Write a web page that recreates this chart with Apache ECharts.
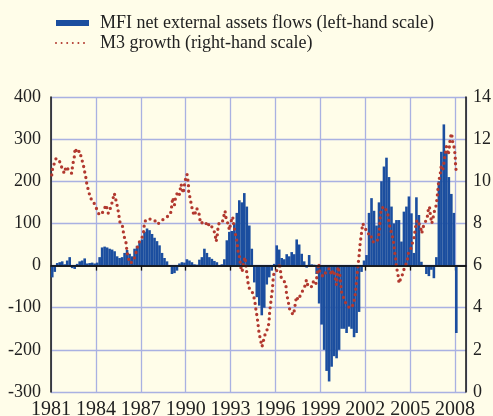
<!DOCTYPE html>
<html>
<head>
<meta charset="utf-8">
<script src="https://cdn.jsdelivr.net/npm/echarts@6/dist/echarts.min.js"></script>
<style>
  html, body { margin: 0; padding: 0; background: #fffde9; }
  #chart { width: 493px; height: 416px; }
</style>
</head>
<body>
<div id="chart"></div>
<script>
// x positions are years since the start of 1981
const startYear = 1981;
const flowName = 'MFI net external assets flows (left-hand scale)';
const m3Name = 'M3 growth (right-hand scale)';

// MFI net external assets flows, two-month steps from Jan 1981
const flowValues = [
  -28, -15, 6, 8, 10, 3,            // 1981
  12, 20, -6, -8, 4, 10,            // 1982
  12, 17, 5, 6, 7, 5,               // 1983
  7, 20, 43, 45, 43, 40,            // 1984
  38, 34, 22, 18, 20, 30,           // 1985
  37, 28, 22, 40, 47, 55,           // 1986
  62, 80, 88, 84, 75, 66,           // 1987
  58, 48, 30, 18, 10, 0,            // 1988
  -20, -18, -12, 5, 8, 7,           // 1989
  15, 12, 8, 3, 2, 14,              // 1990
  20, 40, 30, 20, 16, 11,           // 1991
  8, -3, 3, 15, 60, 80,             // 1992
  82, 100, 125, 155, 150, 172,      // 1993
  140, 95, 40, -40, -75, -95,       // 1994
  -118, -100, -45, -28, -12, 4,     // 1995
  48, 38, 18, 15, 27, 22,           // 1996
  32, 27, 62, 50, 28, 10,           // 1997
  -5, 25, 3, 2, -20, -90,           // 1998
  -140, -200, -250, -275, -240, -215, // 1999
  -220, -200, -150, -150, -160, -145, // 2000
  -150, -170, -160, -110, -15, 12,  // 2001
  25, 125, 160, 130, 95, 150,       // 2002
  200, 235, 256, 210, 140, 100,     // 2003
  108, 108, 57, 128, 140, 164,      // 2004
  124, 30, 162, 120, 9, 0,          // 2005
  -20, -25, -10, -30, 20, 200,      // 2006
  270, 335, 270, 210, 170, 125,     // 2007
  -160                              // 2008
];

// M3 growth
const m3Times = [
  0.05, 0.11, 0.22, 0.34, 0.45, 0.56, 0.67, 0.78, 0.89, 1.0, 1.12, 1.23, 1.38, 1.45, 1.56, 1.61, 1.74, 1.9,
  2.01, 2.16, 2.27, 2.34, 2.41, 2.5, 2.63, 2.79, 2.9, 3.08, 3.23, 3.46, 3.68, 3.83, 4.01, 4.12, 4.23, 4.35,
  4.46, 4.55, 4.64, 4.79, 4.86, 5.01, 5.08, 5.17, 5.3, 5.45, 5.57, 5.7, 5.84, 5.91, 6.06, 6.2, 6.24, 6.38,
  6.51, 6.68, 6.91, 7.13, 7.36, 7.47, 7.69, 7.98, 8.07, 8.13, 8.25, 8.29, 8.46, 8.58, 8.69, 8.84, 8.91, 9.02,
  9.09, 9.14, 9.18, 9.2, 9.25, 9.36, 9.47, 9.58, 9.74, 9.92, 9.98, 10.07, 10.3, 10.47, 10.58, 10.74, 10.96,
  11.03, 11.1, 11.14, 11.25, 11.47, 11.63, 11.7, 11.76, 11.85, 11.92, 12.03, 12.14, 12.21, 12.3, 12.43,
  12.48, 12.59, 12.65, 12.7, 12.77, 12.88, 12.97, 13.06, 13.17, 13.28, 13.46, 13.61, 13.68, 13.77, 13.84,
  13.9, 13.99, 14.1, 14.22, 14.35, 14.5, 14.57, 14.61, 14.68, 14.73, 14.79, 14.84, 14.91, 15.02, 15.17,
  15.28, 15.39, 15.51, 15.69, 15.73, 15.84, 15.95, 16.06, 16.17, 16.24, 16.33, 16.4, 16.51, 16.62, 16.73,
  16.85, 16.95, 17.07, 17.18, 17.29, 17.4, 17.51, 17.69, 17.78, 17.89, 17.96, 18.07, 18.18, 18.29, 18.45,
  18.63, 18.74, 18.85, 18.96, 19.07, 19.18, 19.3, 19.41, 19.52, 19.7, 19.79, 19.97, 20.08, 20.19, 20.31,
  20.37, 20.42, 20.46, 20.53, 20.59, 20.65, 20.72, 20.83, 21.03, 21.19, 21.34, 21.48, 21.63, 21.79, 21.92,
  21.97, 22.01, 22.08, 22.19, 22.3, 22.41, 22.52, 22.59, 22.64, 22.75, 22.81, 22.9, 22.97, 23.03, 23.08,
  23.19, 23.26, 23.35, 23.45, 23.57, 23.66, 23.8, 23.88, 24.02, 24.11, 24.17, 24.28, 24.33, 24.46, 24.55,
  24.69, 24.77, 24.91, 24.95, 25.13, 25.22, 25.29, 25.35, 25.44, 25.51, 25.58, 25.73, 25.8, 25.85, 25.9,
  26.0, 26.07, 26.18, 26.25, 26.33, 26.42, 26.55, 26.62, 26.68, 26.77, 26.84, 26.95, 27.01, 27.03, 27.08
];
const m3Values = [
  10.3, 10.62, 10.7, 11.09, 11.01, 10.97, 10.93, 10.54, 10.38, 10.7, 10.59, 10.54, 10.38, 10.78, 11.17, 11.57, 11.33, 11.44,
  11.17, 10.78, 10.38, 10.14, 9.78, 9.59, 9.19, 9.11, 9.03, 8.64, 8.4, 8.53, 8.88, 8.48, 8.8, 9.11, 9.43, 9.07,
  8.72, 8.32, 7.93, 7.85, 7.45, 7.09, 6.66, 6.34, 6.11, 6.2, 6.34, 6.66, 7.06, 7.14, 7.26, 7.64, 8.05, 8.2,
  8.24, 8.21, 8.16, 7.96, 8.12, 8.09, 8.28, 8.43, 8.84, 9.22, 8.88, 9.11, 9.51, 9.38, 9.86, 9.43, 9.79, 10.22,
  10.33, 10.3, 9.9, 9.51, 9.35, 8.96, 8.56, 8.37, 8.72, 8.4, 8.0, 7.96, 8.09, 7.85, 8.0, 7.85, 7.53,
  7.14, 7.33, 7.69, 8.09, 8.12, 8.59, 8.24, 8.12, 7.93, 7.69, 8.09, 8.32, 7.93, 7.58, 7.14,
  6.74, 6.42, 6.11, 5.87, 5.71, 6.19, 6.4, 5.79, 5.16, 4.84, 4.72, 4.37, 3.97, 3.58, 3.18,
  2.82, 2.5, 2.15, 2.5, 2.86, 3.02, 3.34, 3.81, 4.21, 4.53, 4.84, 5.32, 5.71, 5.79, 5.79,
  6.11, 5.4, 5.4, 5.16, 4.72, 4.34, 3.92, 3.81, 3.66, 3.81, 4.21, 4.53, 4.37, 4.4, 4.68,
  4.6, 5.0, 5.32, 5.0, 4.92, 5.0, 5.24, 5.08, 5.0, 6.11, 5.71, 5.79, 5.47, 5.55, 5.79,
  5.87, 5.55, 5.79, 5.55, 5.08, 5.95, 5.55, 4.76, 4.53, 4.21, 4.13, 3.97, 3.92, 4.13, 4.53,
  4.92, 5.32, 5.63, 6.11, 6.5, 7.0, 7.4, 8.0, 7.72, 7.5, 7.53, 7.14, 7.1, 7.14, 7.53,
  7.93, 8.4, 8.72, 8.8, 8.8, 8.83, 8.4, 8.0, 7.85, 7.77, 7.41, 7.06, 6.61, 6.34, 5.95,
  5.55, 5.16, 5.35, 5.5, 5.79, 5.95, 6.22, 6.58, 6.74, 6.98, 7.06, 7.37, 7.74, 8.16, 8.21,
  7.85, 7.53, 7.93, 7.85, 8.24, 8.69, 8.8, 8.4, 8.0, 8.16, 8.48, 8.84, 9.22, 9.59, 9.98,
  10.3, 10.7, 10.54, 10.85, 11.25, 11.65, 11.25, 11.65, 12.07, 12.28, 11.88, 11.57, 11.17, 10.8, 10.43
];

const flowData = flowValues.map((v, i) => [(i + 0.5) / 6, v]);
const m3Data = m3Times.map((t, i) => [t, m3Values[i]]);

const serif = 'Liberation Serif';
const gridColor = '#a9b1e2';
const dotRed = '#b2392f';

const chart = echarts.init(document.getElementById('chart'));
chart.setOption({
  backgroundColor: '#fffde9',
  animation: false,
  legend: {
    orient: 'vertical',
    left: 50,
    top: 9,
    itemGap: 2,
    itemWidth: 33,
    itemHeight: 6,
    textStyle: { fontFamily: serif, fontSize: 18, color: '#222', padding: [0, 0, 0, 6] },
    data: [
      { name: flowName, icon: 'rect' },
      { name: m3Name, itemStyle: { opacity: 0 } }
    ]
  },
  grid: { left: 51, right: 27, top: 97, bottom: 24, outerBoundsMode: 'none', containLabel: false },
  xAxis: {
    type: 'value',
    min: 0,
    max: 27.73,
    interval: 3,
    axisLine: { lineStyle: { color: '#111', width: 1.5 } },
    axisTick: { show: true, length: 5, lineStyle: { color: '#111', width: 1.3 } },
    axisLabel: {
      fontFamily: serif, fontSize: 20, color: '#222', margin: 8,
      showMaxLabel: false,
      formatter: v => String(startYear + v)
    },
    splitLine: { show: true, lineStyle: { color: gridColor, width: 1.3 } }
  },
  yAxis: [
    {
      type: 'value',
      min: -300, max: 400, interval: 100,
      axisLine: { show: true, lineStyle: { color: '#111', width: 1.5 } },
      axisTick: { show: false },
      axisLabel: { fontFamily: serif, fontSize: 18, color: '#222', margin: 10 },
      splitLine: { show: true, lineStyle: { color: gridColor, width: 1.3 } }
    },
    {
      type: 'value',
      min: 0, max: 14, interval: 2,
      axisLine: { show: true, lineStyle: { color: '#111', width: 1.5 } },
      axisTick: { show: false },
      axisLabel: { fontFamily: serif, fontSize: 18, color: '#222', margin: 7 },
      splitLine: { show: false }
    }
  ],
  series: [
    {
      name: flowName,
      type: 'bar',
      yAxisIndex: 0,
      barWidth: 2.6,
      itemStyle: { color: '#1b4e9f' },
      data: flowData,
      markLine: {
        silent: true,
        symbol: 'none',
        label: { show: false },
        lineStyle: { color: '#111', width: 1.6, type: 'solid' },
        data: [{ yAxis: 0 }]
      }
    },
    {
      name: m3Name,
      type: 'line',
      yAxisIndex: 1,
      showSymbol: false,
      symbol: 'none',
      itemStyle: { color: dotRed },
      lineStyle: { color: dotRed, width: 3.3, type: [0, 5.6], cap: 'round' },
      data: m3Data
    }
  ]
});
</script>
</body>
</html>
